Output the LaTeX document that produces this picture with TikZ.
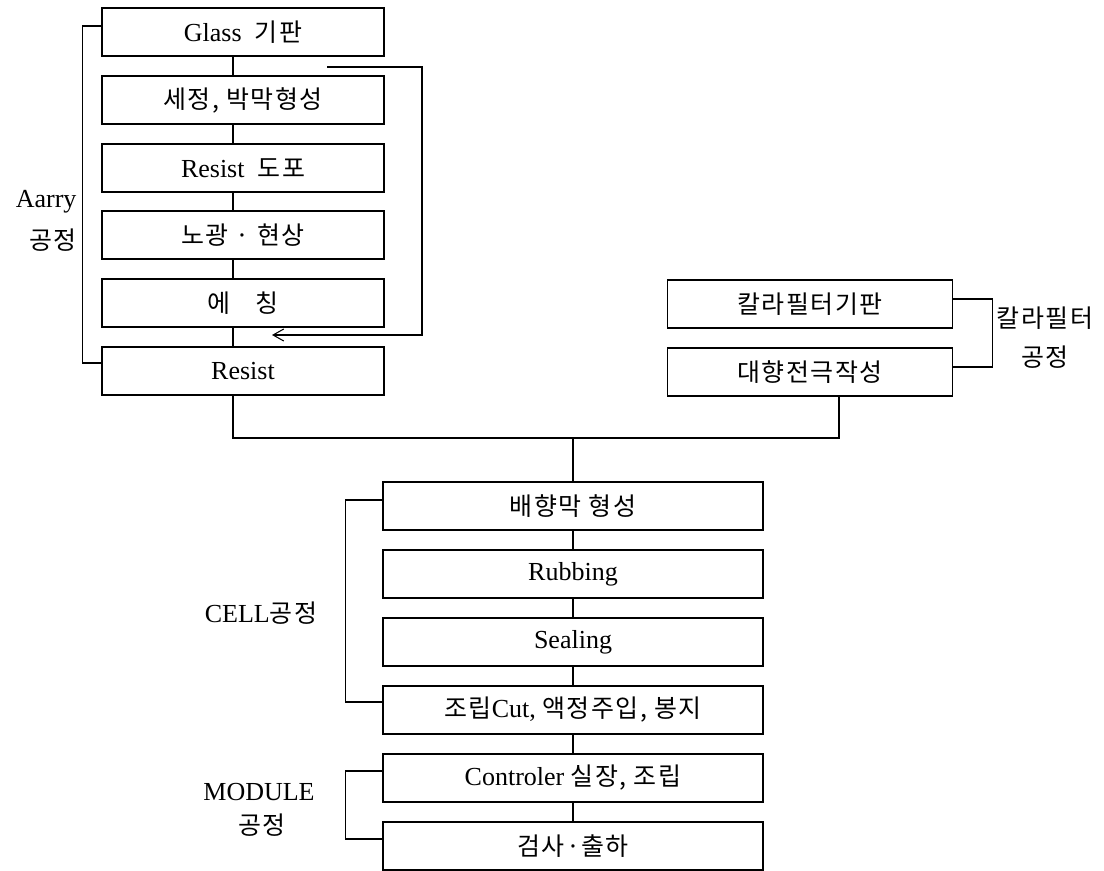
\documentclass[tikz,border=0pt]{standalone}
\usepackage{fontspec}
\setmainfont{Liberation Serif}
\newfontfamily\krfont{Noto Sans CJK KR}[Scale=0.96,LetterSpace=6]
\usetikzlibrary{arrows.meta}
\newcommand{\hk}[1]{{\krfont #1}}
\begin{document}
\begin{tikzpicture}[x=0.75pt,y=-0.75pt,
  font=\fontsize{19.5}{22}\selectfont,
  line width=0.8pt,
  box/.style={draw, inner sep=0pt, minimum height=36pt},
  lbox/.style={box, minimum width=211.5pt},
  rbox/.style={box, minimum width=213.75pt},
  bbox/.style={box, minimum width=285pt},
  lbl/.style={inner sep=0pt},
  loopline/.style={-{Straight Barb[length=8pt,width=9pt]}}]
\useasboundingbox (0,0) rectangle (1104,871);
% left column
\node[lbox] (g)  at (243,32)  {Glass\ \ \hk{기판}};
\node[lbox] (s1) at (243,100) {\hk{세정, 박막형성}};
\node[lbox] (s2) at (243,168) {Resist\ \ \hk{도포}};
\node[lbox] (s3) at (243,235) {\hk{노광 · 현상}};
\node[lbox] (s4) at (243,303) {\hk{에}\hspace{19pt}\hk{칭}};
\node[lbox] (r)  at (243,371) {Resist};
% right column
\node[rbox] (c) at (810,304) {\hk{칼라필터기판}};
\node[rbox] (d) at (810,372) {\hk{대향전극작성}};
% bottom column
\node[bbox] (b1) at (573,506) {\hk{배향막 형성}};
\node[bbox] (b2) at (573,574) {Rubbing};
\node[bbox] (b3) at (573,642) {Sealing};
\node[bbox] (b4) at (573,710) {\hk{조립}Cut, \hk{액정주입, 봉지}};
\node[bbox] (b5) at (573,778) {Controler \hk{실장, 조립}};
\node[bbox] (b6) at (573,846) {\hk{검사·출하}};
% labels
\node[lbl, anchor=east] (la1) at (77,202) {Aarry};
\node[lbl, anchor=east] (la2) at (77,240) {\hk{공정}};
\node[lbl] (lc1) at (1045,318) {\hk{칼라필터}};
\node[lbl] (lc2) at (1045,357) {\hk{공정}};
\node[lbl] (lcell) at (261,613) {CELL\hk{공정}};
\node[lbl] (lm1) at (259,792) {MODULE};
\node[lbl] (lm2) at (262,825) {\hk{공정}};
% left connectors
\foreach \a/\b in {g/s1,s1/s2,s2/s3,s3/s4,s4/r}
  \draw ([xshift=-7.5pt]\a.south) -- ([xshift=-7.5pt]\b.north);
% feedback loop
\coordinate (ls) at (327,67);
\coordinate (lc) at (422,335);
\coordinate (le) at (272,335);
\draw[loopline] (ls) -| (lc) -- (le);
% brackets
\draw ([yshift=4.5pt]g.west) -- ++(-19,0) |- ([yshift=6pt]r.west);
\draw ([yshift=3.75pt]c.east) -- ++(39,0) |- ([yshift=3.75pt]d.east);
\draw ([yshift=4.5pt]b1.west) -- ++(-37,0) |- ([yshift=6pt]b4.west);
\draw ([yshift=5.25pt]b5.west) -- ++(-37,0) |- ([yshift=5.25pt]b6.west);
% join
\coordinate (j) at (573,438);
\draw ([xshift=-7.5pt]r.south) |- (j) -| ([xshift=21.75pt]d.south);
\draw (j) -- (b1.north);
% bottom connectors
\foreach \a/\b in {b1/b2,b2/b3,b3/b4,b4/b5,b5/b6}
  \draw (\a.south) -- (\b.north);
\end{tikzpicture}
\end{document}
